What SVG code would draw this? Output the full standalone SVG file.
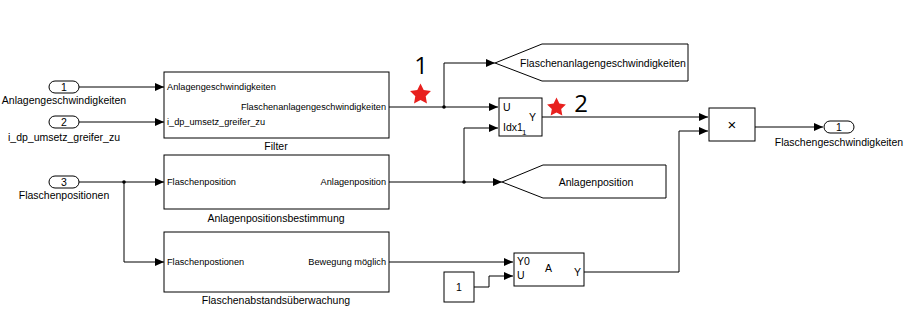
<svg xmlns="http://www.w3.org/2000/svg" width="913" height="316" viewBox="0 0 913 316">
<style>
.blk{fill:#fff;stroke:#000;stroke-width:1}
.ln{fill:none;stroke:#000;stroke-width:1}
.t{font-family:"Liberation Sans",Arial,sans-serif;font-size:10.5px;fill:#000}
.p{font-family:"Liberation Sans",Arial,sans-serif;font-size:9.2px;fill:#000}
.big{font-family:"Open Sans","Liberation Sans",sans-serif;font-size:24px;fill:#000}
.m{text-anchor:middle}
.e{text-anchor:end}
.star{fill:#e8201e}
</style>
<defs>
<marker id="ar" markerWidth="9" markerHeight="8" refX="9" refY="4" orient="auto" markerUnits="userSpaceOnUse">
<path d="M0,0 L9,4 L0,8 Z" fill="#000"/>
</marker>
<polygon id="st" points="0,-11 3.2,-4.4 10.46,-3.4 5.2,1.7 6.47,8.9 0,5.5 -6.47,8.9 -5.2,1.7 -10.46,-3.4 -3.2,-4.4"/>
</defs>
<rect width="913" height="316" fill="#fff"/>

<g id="connectors">
<path class="ln" d="M79,87 H164" marker-end="url(#ar)"/>
<path class="ln" d="M79,122 H164" marker-end="url(#ar)"/>
<path class="ln" d="M389,107 H498" marker-end="url(#ar)"/>
<path class="ln" d="M444,107 V63 H495" marker-end="url(#ar)"/>
<path class="ln" d="M79,182 H164" marker-end="url(#ar)"/>
<path class="ln" d="M124,182 V262 H164" marker-end="url(#ar)"/>
<path class="ln" d="M389,182 H502" marker-end="url(#ar)"/>
<path class="ln" d="M464,182 V128 H498" marker-end="url(#ar)"/>
<path class="ln" d="M542,117 H708" marker-end="url(#ar)"/>
<path class="ln" d="M389,262 H513" marker-end="url(#ar)"/>
<path class="ln" d="M474,287 H489 V276 H513" marker-end="url(#ar)"/>
<path class="ln" d="M584,272 H679 V131 H708" marker-end="url(#ar)"/>
<path class="ln" d="M755,127 H823" marker-end="url(#ar)"/>
<circle cx="444" cy="107" r="1.8" fill="#000"/>
<circle cx="124" cy="182" r="1.8" fill="#000"/>
<circle cx="464" cy="182" r="1.8" fill="#000"/>
</g>

<g id="in1">
<rect class="blk" x="49" y="81" width="30" height="12" rx="6"/>
<text class="t m" x="64" y="91">1</text>
<text class="t m" x="64" y="104">Anlagengeschwindigkeiten</text>
</g>
<g id="in2">
<rect class="blk" x="49" y="116" width="30" height="12" rx="6"/>
<text class="t m" x="64" y="126">2</text>
<text class="t m" x="64" y="141">i_dp_umsetz_greifer_zu</text>
</g>
<g id="in3">
<rect class="blk" x="49" y="176" width="30" height="12" rx="6"/>
<text class="t m" x="64" y="186">3</text>
<text class="t m" x="64" y="199">Flaschenpositionen</text>
</g>

<g id="filter">
<rect class="blk" x="164" y="72" width="225" height="66"/>
<text class="p" x="167" y="90">Anlagengeschwindigkeiten</text>
<text class="p e" x="386" y="110">Flaschenanlagengeschwindigkeiten</text>
<text class="p" x="167" y="125">i_dp_umsetz_greifer_zu</text>
<text class="t m" x="276" y="150">Filter</text>
</g>

<g id="anlagenpositionsbestimmung">
<rect class="blk" x="164" y="155" width="225" height="54"/>
<text class="p" x="167" y="185">Flaschenposition</text>
<text class="p e" x="386" y="185">Anlagenposition</text>
<text class="t m" x="276" y="222">Anlagenpositionsbestimmung</text>
</g>

<g id="flaschenabstand">
<rect class="blk" x="164" y="232" width="225" height="60"/>
<text class="p" x="167" y="265">Flaschenpostionen</text>
<text class="p e" x="386" y="265">Bewegung möglich</text>
<text class="t m" x="276" y="304">Flaschenabstandsüberwachung</text>
</g>

<g id="goto1">
<polygon class="blk" points="495,63 542,44 688,44 688,81 542,81"/>
<text class="t m" x="603" y="67">Flaschenanlagengeschwindigkeiten</text>
</g>

<g id="goto2">
<polygon class="blk" points="502,182 543,165 666,165 666,198 543,198"/>
<text class="t m" x="596" y="186">Anlagenposition</text>
</g>

<g id="selector">
<rect class="blk" x="499" y="98" width="43" height="38"/>
<text class="t" x="503" y="111">U</text>
<text class="t" x="503" y="131">Idx1</text>
<text class="t" x="522" y="135" style="font-size:8px">1</text>
<text class="t" x="529" y="121">Y</text>
</g>

<g id="product">
<rect class="blk" x="709" y="108" width="46" height="33"/>
<text class="t m" x="732" y="130" style="font-size:15px">×</text>
</g>

<g id="out1">
<rect class="blk" x="824" y="121" width="30" height="12" rx="6"/>
<text class="t m" x="839" y="131">1</text>
<text class="t m" x="839" y="146">Flaschengeschwindigkeiten</text>
</g>

<g id="blockA">
<rect class="blk" x="514" y="253" width="70" height="33"/>
<text class="t" x="517" y="265">Y0</text>
<text class="t" x="517" y="279">U</text>
<text class="t" x="545" y="272">A</text>
<text class="t" x="574" y="276">Y</text>
</g>

<g id="const1">
<rect class="blk" x="444" y="272" width="30" height="30"/>
<text class="t m" x="459" y="291">1</text>
</g>

<g id="annotations">
<text class="big m" x="421" y="74">1</text>
<use href="#st" class="star" transform="translate(420.5,94.5)"/>
<text class="big m" x="581" y="112">2</text>
<use href="#st" class="star" transform="translate(556.5,107.5) scale(0.9)"/>
</g>
</svg>
